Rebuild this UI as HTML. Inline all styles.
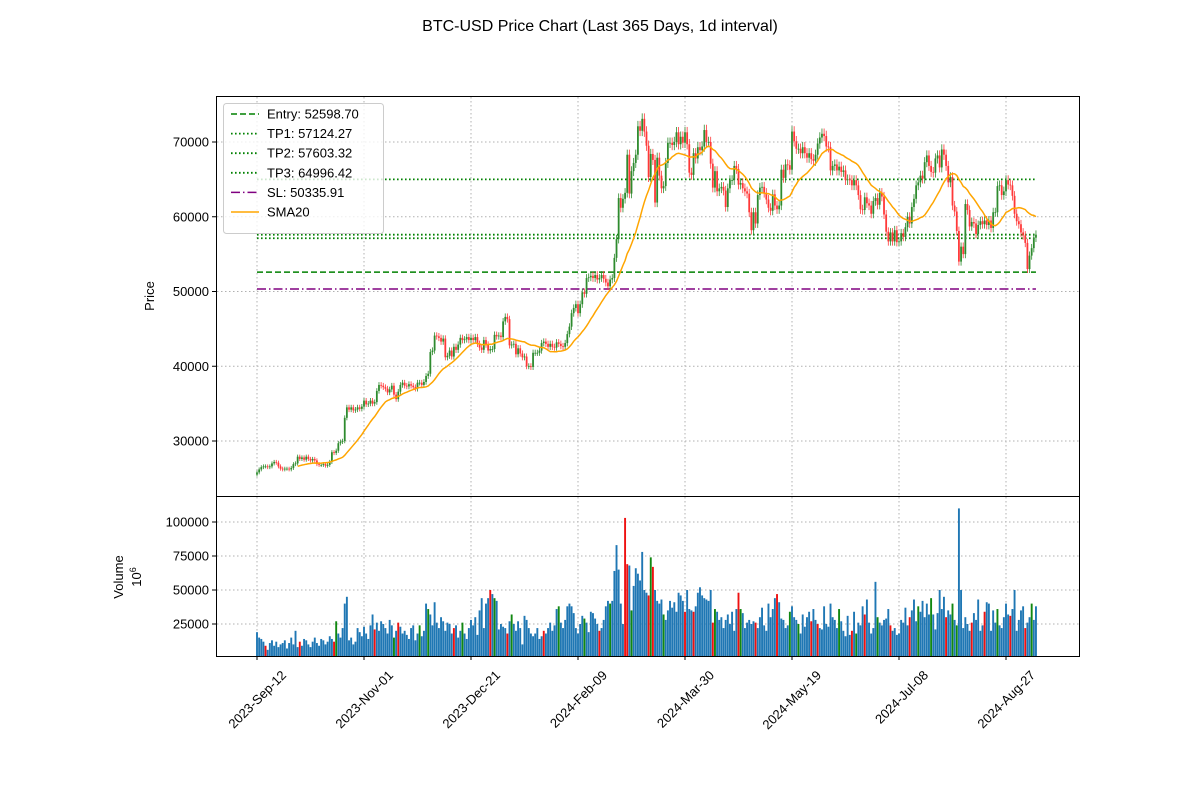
<!DOCTYPE html>
<html><head><meta charset="utf-8"><style>
body{margin:0;background:#fff;}
svg text{font-family:"Liberation Sans","DejaVu Sans",sans-serif;fill:#000;}
</style></head><body>
<svg id="chart" width="1200" height="800" xmlns="http://www.w3.org/2000/svg">
<rect width="1200" height="800" fill="#fff"/>
<text x="600" y="31" font-size="16" text-anchor="middle">BTC-USD Price Chart (Last 365 Days, 1d interval)</text>
<g id="grid"></g><g id="hlines"></g><g id="candles"></g><g id="vols"></g><g id="sma"></g>
<rect x="216.5" y="96.5" width="863" height="400" fill="none" stroke="#000" stroke-width="1"/>
<rect x="216.5" y="496.5" width="863" height="160" fill="none" stroke="#000" stroke-width="1"/>
<g id="ticks"></g>
<text transform="translate(154,296) rotate(-90)" font-size="13" text-anchor="middle">Price</text>
<text transform="translate(123,577) rotate(-90)" font-size="13" text-anchor="middle">Volume</text>
<text transform="translate(141,577) rotate(-90)" font-size="13" text-anchor="middle">10<tspan dy="-5" font-size="9">6</tspan></text>
<g id="legend"></g>
</svg>
<script>
const closes=[25.8,26.2,26.5,26.6,26.6,26.5,26.6,27.0,27.2,27.1,
26.6,26.3,26.2,26.3,26.3,26.2,26.4,26.9,27.0,27.9,
27.6,27.8,27.5,27.9,27.6,27.4,27.6,27.4,26.9,26.8,
26.8,26.9,26.7,26.8,27.2,28.5,28.4,28.7,29.7,29.9,
30.0,33.1,34.5,34.2,34.5,34.1,34.2,34.5,34.3,34.6,
35.4,34.9,35.0,35.4,35.0,35.2,36.7,37.5,37.4,37.2,
37.0,36.5,36.9,37.4,36.2,35.6,36.6,37.5,37.8,37.4,
37.3,37.6,37.4,37.2,37.0,37.8,37.8,37.5,37.9,38.7,
39.0,41.9,42.1,44.1,44.0,43.8,43.3,43.7,41.2,41.4,
42.1,41.3,42.6,42.2,42.9,43.8,43.5,43.6,43.9,43.5,
43.8,43.5,43.9,43.0,42.5,42.2,43.5,42.9,42.1,42.3,
42.3,44.2,44.0,44.1,43.9,46.0,46.6,46.3,42.8,42.9,
43.0,41.6,42.4,41.7,41.2,41.3,40.0,40.0,39.9,41.8,
41.8,41.8,42.1,43.1,43.3,43.0,42.6,43.0,42.6,42.5,
43.2,43.0,42.7,42.6,43.1,44.3,45.3,47.1,47.8,48.3,
47.1,48.3,49.9,49.7,51.8,51.9,52.1,51.8,52.2,51.6,
51.8,52.2,51.7,51.2,50.7,51.6,51.8,54.5,57.0,62.5,
61.2,62.4,63.2,68.3,63.1,66.1,67.2,68.3,72.1,71.5,
73.1,71.4,69.5,65.3,68.4,67.6,61.9,67.9,65.5,63.8,
64.1,67.2,69.9,69.9,69.6,70.0,71.3,69.7,70.7,69.9,
71.3,69.7,65.9,65.6,68.5,67.8,69.3,68.9,69.4,71.6,
70.0,70.0,67.1,63.9,66.1,63.4,63.8,64.0,63.5,61.3,
63.8,64.9,64.9,66.8,66.4,64.3,64.5,63.8,63.4,63.1,
60.6,58.2,60.6,59.1,62.9,63.9,64.0,63.2,62.3,61.2,
60.8,63.0,61.5,61.0,61.5,66.3,65.2,67.0,66.9,66.3,
71.4,70.1,69.1,69.1,68.5,69.3,68.5,67.9,68.5,67.7,
67.5,68.3,69.8,70.6,71.1,70.8,69.4,69.3,66.2,66.8,
67.0,66.2,66.7,66.0,66.2,64.9,65.0,64.9,64.2,64.9,
64.2,62.9,61.0,60.9,62.6,61.8,61.5,60.4,62.1,62.5,
61.6,63.2,62.7,60.3,58.0,56.7,57.9,56.7,58.2,56.6,
56.7,57.8,57.3,58.6,60.0,59.1,61.3,62.4,64.2,64.6,
65.5,65.1,67.3,68.2,66.8,66.0,65.9,67.8,68.2,66.6,
69.0,68.3,66.8,64.6,65.3,61.5,60.7,58.1,54.0,56.0,
55.0,61.7,60.9,58.7,59.3,59.1,57.7,58.9,59.4,59.0,
59.5,58.9,59.5,58.5,60.6,60.6,64.1,64.2,62.9,63.4,
64.9,64.3,64.2,62.8,60.4,59.4,59.0,57.9,57.5,56.5,
53.0,54.8,55.8,57.2,57.6];
const volumes=[19,15,14,12,9,6,11,13,9,12,
8,10,11,13,7,11,15,10,20,8,
12,9,14,13,10,8,12,15,11,9,
14,13,10,12,16,14,12,27,18,15,
22,40,45,13,15,10,12,22,19,16,
23,18,14,24,32,21,26,20,27,25,
22,18,28,24,15,20,26,23,18,20,
17,14,22,24,13,18,24,16,20,40,
36,32,24,41,26,22,30,27,20,26,
25,18,22,24,15,20,26,18,14,22,
28,24,30,17,35,44,22,40,44,50,
47,44,42,21,25,23,22,18,27,32,
25,20,27,22,10,31,28,22,18,16,
18,22,14,16,20,18,22,26,20,24,
36,38,26,22,28,38,40,38,33,22,
18,25,31,29,26,19,34,33,29,25,
20,22,28,38,42,40,42,64,83,65,
40,25,103,69,68,35,53,66,62,57,
78,50,48,46,74,67,50,42,40,43,
32,28,35,42,37,41,34,48,46,42,
34,50,36,35,34,38,48,52,46,44,
43,42,50,26,36,34,28,30,22,28,
32,25,34,20,36,48,36,33,22,26,
28,25,27,26,22,30,37,24,20,40,
30,36,44,47,41,29,28,22,24,34,
38,30,28,25,18,32,23,30,34,27,
36,28,25,22,21,38,25,23,40,30,
28,22,36,27,20,16,31,17,20,34,
18,26,24,38,32,43,26,18,22,56,
30,26,24,28,29,36,24,20,22,17,
18,28,26,37,24,30,35,43,27,38,
34,42,30,40,32,44,32,21,33,50,
36,45,30,35,32,40,28,24,110,50,
22,30,25,20,26,33,28,43,20,24,
34,41,40,20,35,26,36,24,22,30,
40,32,31,36,50,20,28,35,38,22,
26,30,40,28,38];
const redVolDays=[4,20,36,55,66,92,109,117,134,160,172,173,183,185,200,204,213,225,233,243,259,262,278,284,296,305,322,334,340,352,359];
const greenVolDays=[37,64,76,80,96,111,119,141,153,165,175,184,190,214,226,249,253,272,280,290,309,315,325,327,346,362];
const xTickLabels=["2023-Sep-12","2023-Nov-01","2023-Dec-21","2024-Feb-09","2024-Mar-30","2024-May-19","2024-Jul-08","2024-Aug-27"];
const xTickIdx=[0,50,100,150,200,250,300,350];
const priceTicks=[30000,40000,50000,60000,70000];
const volTicks=[25000,50000,75000,100000];
const levelNames=["Entry","TP1","TP2","TP3","SL"];
const levelValues=[52598.70,57124.27,57603.32,64996.42,50335.91];

const NS="http://www.w3.org/2000/svg";
const X=i=>257+i*2.14;
const YP=p=>441-(p-30000)*0.007475;
const YV=v=>624-(v-25000)*0.00136;
function mk(tag,attrs,parent){const e=document.createElementNS(NS,tag);for(const k in attrs)e.setAttribute(k,attrs[k]);document.getElementById(parent).appendChild(e);return e;}
const GREEN="#2e8b2e",RED="#ff3838";
xTickIdx.forEach((i,k)=>{
 let g=mk('line',{x1:X(i),x2:X(i),y1:97,y2:496,stroke:'#b0b0b0','stroke-dasharray':'1.5,2.5','stroke-width':1},'grid');
 
 
 let g2=mk('line',{x1:X(i),x2:X(i),y1:497,y2:656,stroke:'#b0b0b0','stroke-dasharray':'1.5,2.5','stroke-width':1},'grid');
 
 
 let t=mk('line',{x1:X(i),x2:X(i),y1:656,y2:660,stroke:'#000'},'ticks');
 
 
 let tx=mk('text',{'font-size':13,'text-anchor':'end',transform:`translate(${X(i)+30},${676}) rotate(-45)`},'ticks');
 tx.textContent=xTickLabels[k];
 
 
});
priceTicks.forEach(p=>{
 let g=mk('line',{x1:217,x2:1080,y1:YP(p),y2:YP(p),stroke:'#b0b0b0','stroke-dasharray':'1.5,2.5'},'grid');
 
 
 mk('line',{x1:212,x2:216,y1:YP(p),y2:YP(p),stroke:'#000'},'ticks');
 let t=mk('text',{x:209,y:YP(p)+4.5,'font-size':13,'text-anchor':'end'},'ticks');
 t.textContent=p;
 
 
});
volTicks.forEach(v=>{
 let g=mk('line',{x1:217,x2:1080,y1:YV(v),y2:YV(v),stroke:'#b0b0b0','stroke-dasharray':'1.5,2.5'},'grid');
 
 
 mk('line',{x1:212,x2:216,y1:YV(v),y2:YV(v),stroke:'#000'},'ticks');
 let t=mk('text',{x:209,y:YV(v)+4.5,'font-size':13,'text-anchor':'end'},'ticks');
 t.textContent=v;
 
 
});
const lstyles=[{c:'#008000',d:'6,3',w:1.5},{c:'#008000',d:'1.6,2.4',w:1.8},{c:'#008000',d:'1.6,2.4',w:1.8},{c:'#008000',d:'1.6,2.4',w:1.8},{c:'#800080',d:'9,3,1.5,3',w:1.5}];
levelValues.forEach((v,k)=>{
 let l=mk('line',{x1:X(0),x2:X(closes.length-1),y1:YP(v),y2:YP(v),stroke:lstyles[k].c,'stroke-width':lstyles[k].w,'stroke-dasharray':lstyles[k].d},'hlines');
 
 
});
closes.forEach((c,i)=>{
 const o=i>0?closes[i-1]:c-0.3;const cp=c*1000,op=o*1000;
 const up=cp>=op;const col=up?GREEN:RED;
 const hi=Math.max(cp,op)*1.01,lo=Math.min(cp,op)*0.99;
 let w=mk('line',{x1:X(i),x2:X(i),y1:YP(hi),y2:YP(lo),stroke:col,'stroke-width':0.8},'candles');
 
 
 const top=YP(Math.max(cp,op)),bot=YP(Math.min(cp,op));
 let b=mk('rect',{x:X(i)-0.9,y:top,width:1.8,height:Math.max(bot-top,0.8),fill:col},'candles');
 
 
});
volumes.forEach((v,i)=>{
 const col=redVolDays.includes(i)?'#ee1111':greenVolDays.includes(i)?'#118811':'#1f77b4';
 const y=YV(v*1000);
 let r=mk('rect',{x:X(i)-0.95,y:y,width:1.9,height:656-y,fill:col},'vols');
 
 
});
let pts=[];
for(let i=19;i<closes.length;i++){let s=0;for(let j=i-19;j<=i;j++)s+=closes[j];pts.push(X(i).toFixed(1)+','+YP(s/20*1000).toFixed(1));}
let sm=mk('polyline',{points:pts.join(' '),fill:'none',stroke:'#ffa500','stroke-width':1.5},'sma');


let lb=mk('rect',{x:223.5,y:103.5,width:160,height:130,rx:3,fill:'#fff','fill-opacity':0.8,stroke:'#ccc'},'legend');


const legLabels=levelNames.map((n,k)=>n+': '+levelValues[k].toFixed(2)).concat(['SMA20']);
const legStyles=lstyles.concat([{c:'#ffa500',d:'',w:1.5}]);
legLabels.forEach((t,k)=>{
 const y=114+k*19.6;
 let l=mk('line',{x1:231,x2:259,y1:y,y2:y,stroke:legStyles[k].c,'stroke-width':legStyles[k].w,'stroke-dasharray':legStyles[k].d},'legend');
 
 
 let tx=mk('text',{x:267,y:y+4.5,'font-size':13},'legend');
 tx.textContent=t;
 
 
});
</script>
</body></html>
